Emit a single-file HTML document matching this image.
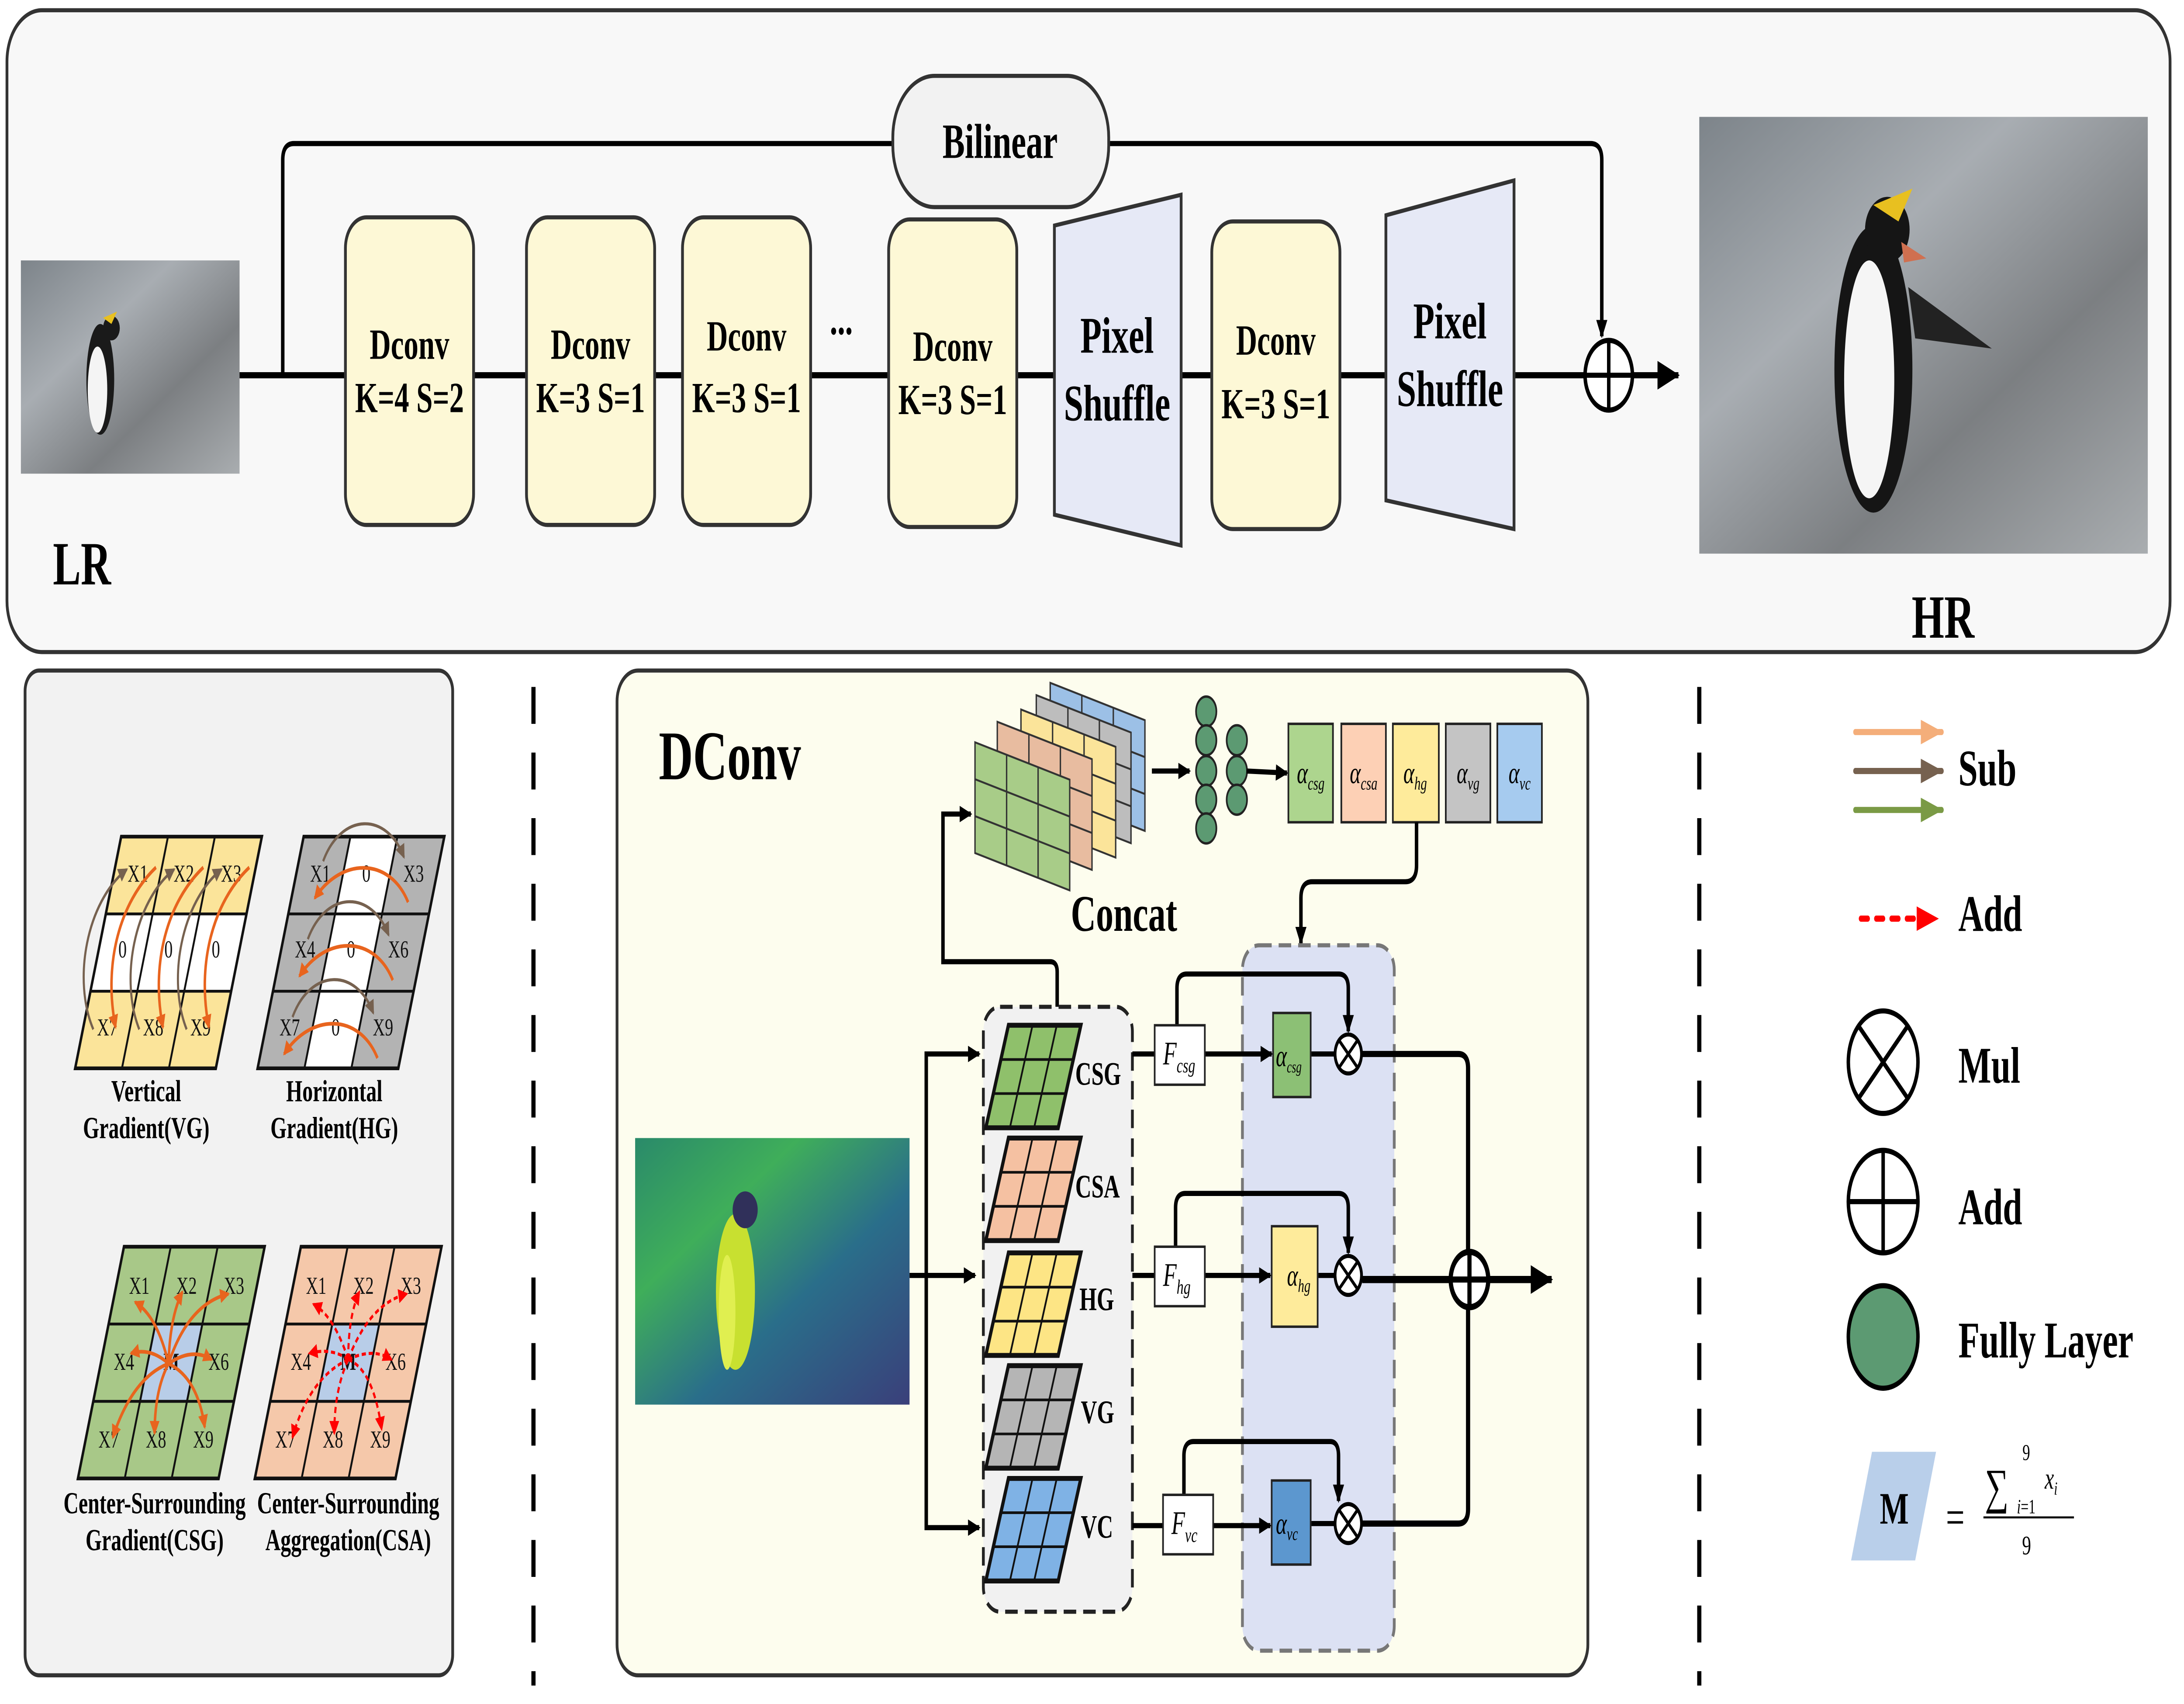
<!DOCTYPE html>
<html><head><meta charset="utf-8"><style>
html,body{margin:0;padding:0;background:#fff;width:100%;height:100%;overflow:hidden;}
svg{display:block;width:100vw;height:100vh;}
text{font-family:"Liberation Serif",serif;}
</style></head><body>
<svg viewBox="0 0 1568 831" preserveAspectRatio="none" xmlns="http://www.w3.org/2000/svg">
<defs>
<marker id="ah" markerWidth="9" markerHeight="8" refX="8" refY="4" orient="auto" markerUnits="userSpaceOnUse"><path d="M0,0 L9,4 L0,8 z" fill="#000"/></marker>
<marker id="ahb" markerWidth="16" markerHeight="14" refX="15" refY="7" orient="auto" markerUnits="userSpaceOnUse"><path d="M0,0 L16,7 L0,14 z" fill="#000"/></marker>
<marker id="ahr" markerWidth="16" markerHeight="12" refX="15" refY="6" orient="auto" markerUnits="userSpaceOnUse"><path d="M0,0 L16,6 L0,12 z" fill="#f00"/></marker>
<marker id="aho" markerWidth="16" markerHeight="12" refX="15" refY="6" orient="auto" markerUnits="userSpaceOnUse"><path d="M0,0 L16,6 L0,12 z" fill="#f4ae7a"/></marker>
<marker id="ahbr" markerWidth="16" markerHeight="12" refX="15" refY="6" orient="auto" markerUnits="userSpaceOnUse"><path d="M0,0 L16,6 L0,12 z" fill="#76614f"/></marker>
<marker id="ahg" markerWidth="16" markerHeight="12" refX="15" refY="6" orient="auto" markerUnits="userSpaceOnUse"><path d="M0,0 L16,6 L0,12 z" fill="#7a9a45"/></marker>
<marker id="sa" markerWidth="7" markerHeight="7" refX="6" refY="3.5" orient="auto" markerUnits="userSpaceOnUse"><path d="M0,0 L7,3.5 L0,7 z" fill="#e8641e"/></marker>
<marker id="sb" markerWidth="7" markerHeight="7" refX="6" refY="3.5" orient="auto" markerUnits="userSpaceOnUse"><path d="M0,0 L7,3.5 L0,7 z" fill="#76614f"/></marker>
<marker id="sr" markerWidth="7" markerHeight="7" refX="6" refY="3.5" orient="auto" markerUnits="userSpaceOnUse"><path d="M0,0 L7,3.5 L0,7 z" fill="#f00"/></marker>
<linearGradient id="rock" x1="0" y1="0" x2="1" y2="1"><stop offset="0" stop-color="#7d848a"/><stop offset="0.35" stop-color="#a8adb2"/><stop offset="0.65" stop-color="#7c7f82"/><stop offset="1" stop-color="#a9adb0"/></linearGradient>
<linearGradient id="feat" x1="0" y1="0" x2="1" y2="1"><stop offset="0" stop-color="#2a8a6a"/><stop offset="0.3" stop-color="#3fae5a"/><stop offset="0.6" stop-color="#2a6e8a"/><stop offset="1" stop-color="#3a3f7a"/></linearGradient>
</defs>

<!-- TOP -->
<rect x="5" y="5" width="1553" height="313" rx="25" fill="#f8f8f8" stroke="#333" stroke-width="2"/>
<rect x="15" y="127" width="157" height="104" fill="url(#rock)"/>
<ellipse cx="72" cy="185" rx="10" ry="27" fill="#1a1a1a"/><ellipse cx="70" cy="190" rx="7" ry="21" fill="#f4f4f4"/><circle cx="80" cy="160" r="6" fill="#1a1a1a"/><path d="M74,155 l10,-3 l-4,6z" fill="#e8c020"/>
<text x="38" y="285" font-size="30" font-weight="bold">LR</text>

<path d="M203,183 V78 Q203,70 211,70 H1142 Q1150,70 1150,78 V164" fill="none" stroke="#000" stroke-width="2.5" marker-end="url(#ah)"/>
<rect x="641" y="37" width="155" height="64" rx="30" fill="#f2f2f2" stroke="#333" stroke-width="2"/>
<text x="718" y="77" font-size="24" font-weight="bold" text-anchor="middle">Bilinear</text>
<line x1="172" y1="183" x2="1137" y2="183" stroke="#000" stroke-width="3"/>
<g fill="#fdf8d6" stroke="#333" stroke-width="2">
<rect x="248" y="106" width="92" height="150" rx="15"/>
<rect x="378" y="106" width="92" height="150" rx="15"/>
<rect x="490" y="106" width="92" height="150" rx="15"/>
<rect x="638" y="107" width="92" height="150" rx="15"/>
<rect x="870" y="108" width="92" height="150" rx="15"/>
</g>
<g font-size="21" font-weight="bold" text-anchor="middle">
<text x="294" y="175">Dconv</text><text x="294" y="201">K=4 S=2</text>
<text x="424" y="175">Dconv</text><text x="424" y="201">K=3 S=1</text>
<text x="536" y="171">Dconv</text><text x="536" y="201">K=3 S=1</text>
<text x="684" y="176">Dconv</text><text x="684" y="202">K=3 S=1</text>
<text x="916" y="173">Dconv</text><text x="916" y="204">K=3 S=1</text>
</g>
<text x="604" y="163" font-size="22" font-weight="bold" text-anchor="middle">...</text>
<path d="M757,110 L848,95 L848,266 L757,251 Z" fill="#e6e9f6" stroke="#333" stroke-width="2"/>
<text x="802" y="172" font-size="25" font-weight="bold" text-anchor="middle">Pixel</text>
<text x="802" y="205" font-size="25" font-weight="bold" text-anchor="middle">Shuffle</text>
<path d="M995,105 L1087,88 L1087,258 L995,244 Z" fill="#e6e9f6" stroke="#333" stroke-width="2"/>
<text x="1041" y="165" font-size="25" font-weight="bold" text-anchor="middle">Pixel</text>
<text x="1041" y="198" font-size="25" font-weight="bold" text-anchor="middle">Shuffle</text>
<circle cx="1155" cy="183" r="17" fill="#fff" stroke="#000" stroke-width="2.5"/>
<line x1="1138" y1="183" x2="1172" y2="183" stroke="#000" stroke-width="2.5"/><line x1="1155" y1="166" x2="1155" y2="200" stroke="#000" stroke-width="2.5"/>
<line x1="1172" y1="183" x2="1205" y2="183" stroke="#000" stroke-width="3" marker-end="url(#ahb)"/>
<rect x="1220" y="57" width="322" height="213" fill="url(#rock)"/>
<ellipse cx="1345" cy="180" rx="28" ry="70" fill="#151515"/><ellipse cx="1342" cy="185" rx="18" ry="58" fill="#f5f5f5"/><circle cx="1355" cy="112" r="16" fill="#151515"/><path d="M1345,100 l28,-8 l-10,16z" fill="#e8c020"/><path d="M1365,118 l18,8 l-16,2z" fill="#d07050"/><path d="M1370,140 l60,30 l-55,-5z" fill="#222"/>
<text x="1395" y="311" font-size="30" font-weight="bold" text-anchor="middle">HR</text>

<!-- LEFT PANEL -->
<rect x="18" y="327" width="307" height="490" rx="10" fill="#f2f2f2" stroke="#333" stroke-width="2"/>
<g stroke="#111" stroke-width="1.4">
<g transform="translate(87,408) skewX(-16.3)">
<rect x="0" y="0" width="101" height="37.7" fill="#fbe49a"/><rect x="0" y="37.7" width="101" height="37.7" fill="#fff"/><rect x="0" y="75.4" width="101" height="37.7" fill="#fbe49a"/>
<path d="M33.6,0V113M67.3,0V113M0,37.7H101M0,75.4H101" fill="none"/><rect width="101" height="113" fill="none" stroke-width="1.8"/>
</g>
<g transform="translate(218,408) skewX(-16.3)">
<rect x="0" y="0" width="101" height="113" fill="#b3b3b3"/><rect x="33.6" y="0" width="33.7" height="113" fill="#fff" stroke="none"/>
<path d="M33.6,0V113M67.3,0V113M0,37.7H101M0,75.4H101" fill="none"/><rect width="101" height="113" fill="none" stroke-width="1.8"/>
</g>
<g transform="translate(89,608) skewX(-16.3)">
<rect x="0" y="0" width="101" height="113" fill="#a8c888"/><rect x="33.6" y="37.7" width="33.7" height="37.7" fill="#b8cde8"/>
<path d="M33.6,0V113M67.3,0V113M0,37.7H101M0,75.4H101" fill="none"/><rect width="101" height="113" fill="none" stroke-width="1.8"/>
</g>
<g transform="translate(216,608) skewX(-16.3)">
<rect x="0" y="0" width="101" height="113" fill="#f5c8aa"/><rect x="33.6" y="37.7" width="33.7" height="37.7" fill="#b8cde8"/>
<path d="M33.6,0V113M67.3,0V113M0,37.7H101M0,75.4H101" fill="none"/><rect width="101" height="113" fill="none" stroke-width="1.8"/>
</g>
</g>
<g font-family="Liberation Sans" font-size="12" text-anchor="middle" fill="#111">
<text x="99" y="430">X1</text><text x="132" y="430">X2</text><text x="166" y="430">X3</text>
<text x="88" y="467">0</text><text x="121" y="467">0</text><text x="155" y="467">0</text>
<text x="77" y="505">X7</text><text x="110" y="505">X8</text><text x="144" y="505">X9</text>
<text x="230" y="430">X1</text><text x="263" y="430">0</text><text x="297" y="430">X3</text>
<text x="219" y="467">X4</text><text x="252" y="467">0</text><text x="286" y="467">X6</text>
<text x="208" y="505">X7</text><text x="241" y="505">0</text><text x="275" y="505">X9</text>
<text x="100" y="631">X1</text><text x="134" y="631">X2</text><text x="168" y="631">X3</text>
<text x="89" y="668">X4</text><text x="123" y="668" font-weight="bold">M</text><text x="157" y="668">X6</text>
<text x="78" y="706">X7</text><text x="112" y="706">X8</text><text x="146" y="706">X9</text>
<text x="227" y="631">X1</text><text x="261" y="631">X2</text><text x="295" y="631">X3</text>
<text x="216" y="668">X4</text><text x="250" y="668" font-weight="bold">M</text><text x="284" y="668">X6</text>
<text x="205" y="706">X7</text><text x="239" y="706">X8</text><text x="273" y="706">X9</text>
</g>
<g fill="none" stroke="#76614f" stroke-width="1.5">
<path d="M67,502 C52,478 62,440 91,424" marker-end="url(#sb)"/>
<path d="M100,502 C86,478 96,440 125,424" marker-end="url(#sb)"/>
<path d="M134,502 C120,478 130,440 159,424" marker-end="url(#sb)"/>
<path d="M232,420 C245,396 278,396 290,418" marker-end="url(#sb)"/>
<path d="M221,458 C234,434 267,434 279,456" marker-end="url(#sb)"/>
<path d="M210,496 C223,472 256,472 268,494" marker-end="url(#sb)"/>
</g>
<g fill="none" stroke="#e8641e" stroke-width="1.8">
<path d="M112,423 C86,440 74,470 83,501" marker-end="url(#sa)"/>
<path d="M146,423 C120,440 108,470 117,501" marker-end="url(#sa)"/>
<path d="M179,423 C153,440 141,470 150,501" marker-end="url(#sa)"/>
<path d="M293,440 C280,418 245,418 226,438" marker-end="url(#sa)"/>
<path d="M282,478 C269,456 234,456 215,476" marker-end="url(#sa)"/>
<path d="M271,516 C258,494 223,494 204,514" marker-end="url(#sa)"/>
<path d="M121,665 Q113,642 97,635" marker-end="url(#sa)"/>
<path d="M121,665 Q122,642 131,630" marker-end="url(#sa)"/>
<path d="M121,665 Q135,636 164,631" marker-end="url(#sa)"/>
<path d="M121,665 Q108,657 94,660" marker-end="url(#sa)"/>
<path d="M121,665 Q138,657 152,663" marker-end="url(#sa)"/>
<path d="M121,665 Q95,672 81,701" marker-end="url(#sa)"/>
<path d="M121,665 Q111,678 111,699" marker-end="url(#sa)"/>
<path d="M121,665 Q142,672 147,696" marker-end="url(#sa)"/>
</g>
<g fill="none" stroke="#f00" stroke-width="1.5" stroke-dasharray="3,2">
<path d="M250,663 Q240,642 225,636" marker-end="url(#sr)"/>
<path d="M250,663 Q250,642 258,630" marker-end="url(#sr)"/>
<path d="M250,663 Q265,636 292,631" marker-end="url(#sr)"/>
<path d="M250,663 Q238,657 222,660" marker-end="url(#sr)"/>
<path d="M250,663 Q268,657 281,663" marker-end="url(#sr)"/>
<path d="M250,663 Q222,672 210,701" marker-end="url(#sr)"/>
<path d="M250,663 Q240,678 240,699" marker-end="url(#sr)"/>
<path d="M250,663 Q268,668 274,697" marker-end="url(#sr)"/>
</g>
<g font-size="15" font-weight="bold" text-anchor="middle">
<text x="105" y="537">Vertical</text><text x="105" y="555">Gradient(VG)</text>
<text x="240" y="537">Horizontal</text><text x="240" y="555">Gradient(HG)</text>
<text x="111" y="738">Center-Surrounding</text><text x="111" y="756">Gradient(CSG)</text>
<text x="250" y="738">Center-Surrounding</text><text x="250" y="756">Aggregation(CSA)</text>
</g>

<line x1="383" y1="335" x2="383" y2="822" stroke="#000" stroke-width="3" stroke-dasharray="18,14"/>
<line x1="1220" y1="335" x2="1220" y2="822" stroke="#000" stroke-width="3" stroke-dasharray="18,14"/>

<!-- DCONV -->
<rect x="443" y="327" width="697" height="490" rx="15" fill="#fdfdee" stroke="#333" stroke-width="2"/>
<text x="473" y="380" font-size="34" font-weight="bold">DConv</text>
<rect x="456" y="555" width="197" height="130" fill="url(#feat)"/>
<ellipse cx="528" cy="630" rx="14" ry="38" fill="#c8e030"/><circle cx="535" cy="590" r="9" fill="#30305a"/><ellipse cx="522" cy="640" rx="6" ry="28" fill="#e0ef50"/>
<g stroke="#333" stroke-width="1">
<g transform="translate(754,333) skewY(15)"><rect width="68" height="54" fill="#9cc0e6"/><path d="M22.7,0V54M45.3,0V54M0,18H68M0,36H68" fill="none"/></g>
<g transform="translate(744,339) skewY(15)"><rect width="68" height="54" fill="#bdbdbd"/><path d="M22.7,0V54M45.3,0V54M0,18H68M0,36H68" fill="none"/></g>
<g transform="translate(733,346) skewY(15)"><rect width="68" height="54" fill="#fbe49a"/><path d="M22.7,0V54M45.3,0V54M0,18H68M0,36H68" fill="none"/></g>
<g transform="translate(716,352) skewY(15)"><rect width="68" height="54" fill="#e8bca0"/><path d="M22.7,0V54M45.3,0V54M0,18H68M0,36H68" fill="none"/></g>
<g transform="translate(700,362) skewY(15)"><rect width="68" height="54" fill="#a8cc88"/><path d="M22.7,0V54M45.3,0V54M0,18H68M0,36H68" fill="none"/></g>
</g>
<text x="807" y="454" font-size="25" font-weight="bold" text-anchor="middle">Concat</text>
<line x1="827" y1="376" x2="854" y2="376" stroke="#000" stroke-width="2.5" marker-end="url(#ah)"/>
<g fill="#5c9a72" stroke="#222" stroke-width="1.2">
<circle cx="866" cy="347" r="7.3"/><circle cx="866" cy="361" r="7.3"/><circle cx="866" cy="376" r="7.3"/><circle cx="866" cy="390" r="7.3"/><circle cx="866" cy="404" r="7.3"/>
<circle cx="888" cy="361" r="7.3"/><circle cx="888" cy="376" r="7.3"/><circle cx="888" cy="390" r="7.3"/>
</g>
<line x1="895" y1="376" x2="924" y2="377" stroke="#000" stroke-width="2.5" marker-end="url(#ah)"/>
<g stroke="#222" stroke-width="1.2">
<rect x="925" y="353" width="32" height="48" fill="#add58e"/>
<rect x="963" y="353" width="32" height="48" fill="#fdd0b5"/>
<rect x="1000" y="353" width="33" height="48" fill="#feeb9b"/>
<rect x="1038" y="353" width="32" height="48" fill="#c4c4c4"/>
<rect x="1075" y="353" width="32" height="48" fill="#a6cbef"/>
</g>
<g font-size="15" font-style="italic" text-anchor="middle">
<text x="941" y="382">α<tspan font-size="9" dy="3">csg</tspan></text>
<text x="979" y="382">α<tspan font-size="9" dy="3">csa</tspan></text>
<text x="1016" y="382">α<tspan font-size="9" dy="3">hg</tspan></text>
<text x="1054" y="382">α<tspan font-size="9" dy="3">vg</tspan></text>
<text x="1091" y="382">α<tspan font-size="9" dy="3">vc</tspan></text>
</g>
<path d="M1017,401 V422 Q1017,430 1009,430 H942 Q934,430 934,438 V460" fill="none" stroke="#000" stroke-width="2.5" marker-end="url(#ah)"/>
<path d="M759,491 V474 Q759,469 754,469 H677 V397 H697" fill="none" stroke="#000" stroke-width="2.5" marker-end="url(#ah)"/>
<rect x="706" y="491" width="107" height="295" rx="12" fill="#f1f1f1" stroke="#222" stroke-width="2" stroke-dasharray="9,5"/>
<g stroke="#111" stroke-width="1.3">
<g transform="translate(724,500) skewX(-18)"><rect width="52" height="50" fill="#8fc06b"/><path d="M17.3,0V50M34.7,0V50M0,16.7H52M0,33.3H52" fill="none"/><rect width="52" height="50" fill="none" stroke-width="2.4"/></g>
<g transform="translate(724,555) skewX(-18)"><rect width="52" height="50" fill="#f5c1a2"/><path d="M17.3,0V50M34.7,0V50M0,16.7H52M0,33.3H52" fill="none"/><rect width="52" height="50" fill="none" stroke-width="2.4"/></g>
<g transform="translate(724,611) skewX(-18)"><rect width="52" height="50" fill="#fde585"/><path d="M17.3,0V50M34.7,0V50M0,16.7H52M0,33.3H52" fill="none"/><rect width="52" height="50" fill="none" stroke-width="2.4"/></g>
<g transform="translate(724,666) skewX(-18)"><rect width="52" height="50" fill="#b5b5b5"/><path d="M17.3,0V50M34.7,0V50M0,16.7H52M0,33.3H52" fill="none"/><rect width="52" height="50" fill="none" stroke-width="2.4"/></g>
<g transform="translate(724,721) skewX(-18)"><rect width="52" height="50" fill="#7fb2e5"/><path d="M17.3,0V50M34.7,0V50M0,16.7H52M0,33.3H52" fill="none"/><rect width="52" height="50" fill="none" stroke-width="2.4"/></g>
</g>
<g font-size="16" font-weight="bold">
<text x="772" y="529">CSG</text><text x="772" y="584">CSA</text><text x="775" y="639">HG</text><text x="776" y="694">VG</text><text x="776" y="750">VC</text>
</g>
<path d="M653,622 H700" fill="none" stroke="#000" stroke-width="2.5" marker-end="url(#ah)"/>
<path d="M665,622 V514 H703" fill="none" stroke="#000" stroke-width="2.5" marker-end="url(#ah)"/>
<path d="M665,622 V745 H703" fill="none" stroke="#000" stroke-width="2.5" marker-end="url(#ah)"/>
<rect x="892" y="461" width="109" height="344" rx="12" fill="#dce1f3" stroke="#777" stroke-width="2" stroke-dasharray="9,5"/>
<g fill="none" stroke="#000" stroke-width="2.5">
<line x1="813" y1="514" x2="829" y2="514"/>
<line x1="813" y1="622" x2="829" y2="622"/>
<line x1="813" y1="744" x2="835" y2="744"/>
<line x1="865" y1="514" x2="913" y2="514" marker-end="url(#ah)"/>
<line x1="865" y1="622" x2="912" y2="622" marker-end="url(#ah)"/>
<line x1="871" y1="744" x2="912" y2="744" marker-end="url(#ah)"/>
<path d="M845,500 V482 Q845,475 852,475 H961 Q968,475 968,482 V503" marker-end="url(#ah)"/>
<path d="M844,608 V589 Q844,582 851,582 H961 Q968,582 968,589 V611" marker-end="url(#ah)"/>
<path d="M850,729 V710 Q850,703 857,703 H955 Q961,703 961,710 V732" marker-end="url(#ah)"/>
<line x1="941" y1="514" x2="958" y2="514"/>
<line x1="946" y1="622" x2="958" y2="622"/>
<line x1="941" y1="743" x2="958" y2="743"/>
<path d="M978,514 H1047 Q1054,514 1054,521 V610" stroke-width="3"/>
<path d="M978,743 H1047 Q1054,743 1054,736 V638" stroke-width="3"/>
<line x1="978" y1="624" x2="1041" y2="624" stroke-width="3.5"/>
</g>
<line x1="1068" y1="624" x2="1114" y2="624" stroke="#000" stroke-width="3.5" marker-end="url(#ahb)"/>
<g fill="#fff" stroke="#222" stroke-width="1.2">
<rect x="829" y="500" width="36" height="29"/><rect x="829" y="608" width="36" height="29"/><rect x="835" y="729" width="36" height="29"/>
</g>
<g font-size="16" font-style="italic">
<text x="835" y="519">F<tspan font-size="10" dy="4">csg</tspan></text>
<text x="835" y="627">F<tspan font-size="10" dy="4">hg</tspan></text>
<text x="841" y="748">F<tspan font-size="10" dy="4">vc</tspan></text>
</g>
<g stroke="#222" stroke-width="1.2">
<rect x="914" y="494" width="27" height="41" fill="#8cc075"/>
<rect x="913" y="598" width="33" height="49" fill="#feeb9b"/>
<rect x="913" y="722" width="28" height="41" fill="#5c97cf"/>
</g>
<g font-size="15" font-style="italic">
<text x="916" y="520">α<tspan font-size="8" dy="3">csg</tspan></text>
<text x="924" y="627">α<tspan font-size="9" dy="3">hg</tspan></text>
<text x="916" y="748">α<tspan font-size="9" dy="3">vc</tspan></text>
</g>
<g fill="#fff" stroke="#000" stroke-width="2">
<circle cx="968" cy="514" r="9.5"/><circle cx="968" cy="622" r="9.5"/><circle cx="968" cy="743" r="9.5"/>
</g>
<g stroke="#000" stroke-width="1.8">
<path d="M961,507 l14,14 M975,507 l-14,14"/><path d="M961,615 l14,14 M975,615 l-14,14"/><path d="M961,736 l14,14 M975,736 l-14,14"/>
</g>
<circle cx="1055" cy="624" r="13.5" fill="#fff" stroke="#000" stroke-width="3"/>
<path d="M1041,624 H1069 M1055,610 V638" stroke="#000" stroke-width="3"/>

<!-- LEGEND -->
<line x1="1332" y1="357" x2="1394" y2="357" stroke="#f4ae7a" stroke-width="3" stroke-linecap="round" marker-end="url(#aho)"/>
<line x1="1332" y1="376" x2="1394" y2="376" stroke="#76614f" stroke-width="3" stroke-linecap="round" marker-end="url(#ahbr)"/>
<line x1="1332" y1="395" x2="1394" y2="395" stroke="#7a9a45" stroke-width="3" stroke-linecap="round" marker-end="url(#ahg)"/>
<line x1="1336" y1="448" x2="1391" y2="448" stroke="#f00" stroke-width="3" stroke-linecap="round" stroke-dasharray="5,6" marker-end="url(#ahr)"/>
<g font-size="25" font-weight="bold">
<text x="1406" y="383">Sub</text>
<text x="1406" y="454">Add</text>
<text x="1406" y="528">Mul</text>
<text x="1406" y="597">Add</text>
<text x="1406" y="662">Fully Layer</text>
</g>
<circle cx="1352" cy="518" r="25" fill="#fff" stroke="#000" stroke-width="2.5"/>
<path d="M1334,500 L1370,536 M1370,500 L1334,536" stroke="#000" stroke-width="2.5"/>
<circle cx="1352" cy="586" r="25" fill="#fff" stroke="#000" stroke-width="2.5"/>
<path d="M1327,586 H1377 M1352,561 V611" stroke="#000" stroke-width="2.5"/>
<circle cx="1352" cy="652" r="25" fill="#5c9a72" stroke="#000" stroke-width="2.5"/>
<path d="M1344,708 L1390,708 L1375,761 L1329,761 Z" fill="#b9cfea"/>
<text x="1360" y="743" font-family="Liberation Sans" font-size="22" font-weight="bold" text-anchor="middle">M</text>
<text x="1397" y="748" font-size="24">=</text>
<text x="1425" y="733" font-size="24">∑</text>
<text x="1452" y="712" font-size="11">9</text>
<text x="1448" y="738" font-size="10" font-style="italic">i<tspan font-style="normal">=1</tspan></text>
<text x="1468" y="726" font-size="15" font-style="italic">x<tspan font-size="9" dy="3">i</tspan></text>
<line x1="1424" y1="740" x2="1489" y2="740" stroke="#000" stroke-width="1"/>
<text x="1455" y="758" font-size="13" text-anchor="middle">9</text>
</svg>
</body></html>
